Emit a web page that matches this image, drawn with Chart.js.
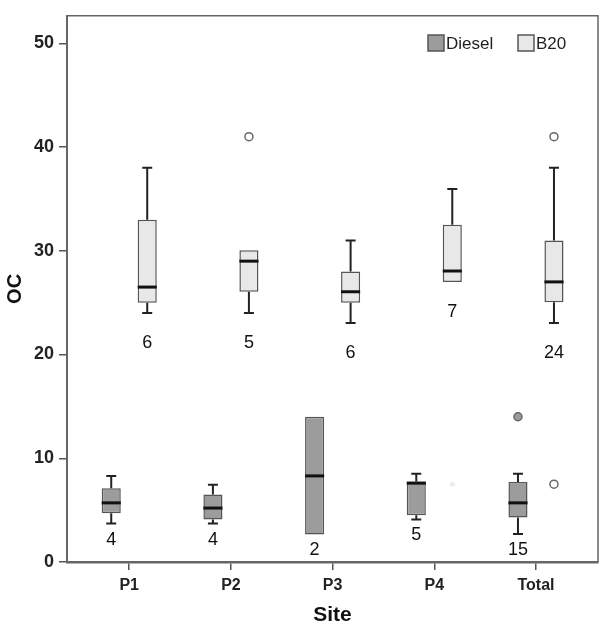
<!DOCTYPE html>
<html>
<head>
<meta charset="utf-8">
<script src="https://cdn.jsdelivr.net/npm/chart.js@4.4.1/dist/chart.umd.min.js"></script>
<style>
  html, body { margin: 0; padding: 0; background: #fff; }
</style>
</head>
<body>
<canvas id="graficoOC" width="604" height="629"></canvas>
<script>
// Sites (categories)
const sites = ['P1', 'P2', 'P3', 'P4', 'Total'];
const yTicks = [0, 10, 20, 30, 40, 50];

// Diesel box statistics
const dieselLow    = [3.7, 3.7, null, 4.1, 2.7];
const dieselQ1     = [4.7, 4.1, 2.65, 4.5, 4.3];
const dieselMedian = [5.7, 5.2, 8.3, 7.6, 5.7];
const dieselQ3     = [7.1, 6.5, 14.0, 7.75, 7.7];
const dieselHigh   = [8.3, 7.45, null, 8.5, 8.5];
const dieselOutliers = [[], [], [], [], [14.0]];
const dieselExtremes = [[], [], [], [], []];
const dieselN      = [4, 4, 2, 5, 15];

// B20 box statistics
const b20Low    = [24.0, 24.0, 23.05, 27.0, 23.05];
const b20Q1     = [25.0, 26.05, 25.0, 27.0, 25.05];
const b20Median = [26.5, 29.0, 26.05, 28.05, 27.0];
const b20Q3     = [33.0, 30.05, 28.0, 32.5, 31.0];
const b20High   = [38.0, 30.05, 31.0, 35.95, 38.0];
const b20Outliers = [[], [41.0], [], [], [41.0, 7.5]];
const b20Extremes = [[], [], [], [7.5], []];
const b20N      = [6, 5, 6, 7, 24];

const FONT = "'Liberation Sans', Arial, sans-serif";
const corDiesel = '#9c9c9c';
const corB20 = '#e8e8e8';

// extras per dataset (whiskers, medians, outliers, counts)
const extras = [
    { low: dieselLow, q1: dieselQ1, med: dieselMedian, high: dieselHigh, out: dieselOutliers, ext: dieselExtremes, n: dieselN, gap: 16, fill: corDiesel },
    { low: b20Low, q1: b20Q1, med: b20Median, high: b20High, out: b20Outliers, ext: b20Extremes, n: b20N, gap: 30, fill: '#ffffff' }
];

const boxExtras = {
    id: 'boxExtras',
    afterDatasetsDraw(chart) {
        const { ctx, chartArea: a, scales: { y } } = chart;
        ctx.save();

        extras.forEach((e, di) => {
            const meta = chart.getDatasetMeta(di);
            const q3 = chart.data.datasets[di].data.map(d => d.y[1]);
            meta.data.forEach((bar, i) => {
                const cx = bar.x;
                const half = bar.width / 2;
                // whiskers
                ctx.strokeStyle = '#222';
                ctx.lineWidth = 2;
                if (e.high[i] != null && e.high[i] > q3[i]) {
                    const yt = y.getPixelForValue(e.high[i]);
                    ctx.beginPath();
                    ctx.moveTo(cx, y.getPixelForValue(q3[i]));
                    ctx.lineTo(cx, yt);
                    ctx.moveTo(cx - 5, yt);
                    ctx.lineTo(cx + 5, yt);
                    ctx.stroke();
                }
                if (e.low[i] != null && e.low[i] < e.q1[i]) {
                    const yb = y.getPixelForValue(e.low[i]);
                    ctx.beginPath();
                    ctx.moveTo(cx, y.getPixelForValue(e.q1[i]));
                    ctx.lineTo(cx, yb);
                    ctx.moveTo(cx - 5, yb);
                    ctx.lineTo(cx + 5, yb);
                    ctx.stroke();
                }
                // median
                ctx.strokeStyle = '#111';
                ctx.lineWidth = 3;
                const ym = y.getPixelForValue(e.med[i]);
                ctx.beginPath();
                ctx.moveTo(cx - half, ym);
                ctx.lineTo(cx + half, ym);
                ctx.stroke();
                // outliers
                ctx.lineWidth = 1.5;
                ctx.strokeStyle = '#666';
                e.out[i].forEach(v => {
                    ctx.beginPath();
                    ctx.arc(cx, y.getPixelForValue(v), 4, 0, Math.PI * 2);
                    ctx.fillStyle = e.fill;
                    ctx.fill();
                    ctx.stroke();
                });
                // extremes (faint asterisk)
                ctx.strokeStyle = '#e2e2e2';
                ctx.lineWidth = 1;
                e.ext[i].forEach(v => {
                    const py = y.getPixelForValue(v);
                    ctx.beginPath();
                    for (let k = 0; k < 3; k++) {
                        const ang = k * Math.PI / 3;
                        ctx.moveTo(cx - 3 * Math.cos(ang), py - 3 * Math.sin(ang));
                        ctx.lineTo(cx + 3 * Math.cos(ang), py + 3 * Math.sin(ang));
                    }
                    ctx.stroke();
                });
                // counts
                const bottom = e.low[i] != null ? e.low[i] : e.q1[i];
                ctx.fillStyle = '#111';
                ctx.font = '18px ' + FONT;
                ctx.textAlign = 'center';
                ctx.textBaseline = 'middle';
                ctx.fillText(String(e.n[i]), cx, y.getPixelForValue(bottom) + e.gap);
            });
        });

        // frame (top and right)
        ctx.strokeStyle = '#666';
        ctx.lineWidth = 1.5;
        ctx.beginPath();
        ctx.moveTo(a.left, a.top);
        ctx.lineTo(a.right, a.top);
        ctx.lineTo(a.right, a.bottom);
        ctx.stroke();

        // legend
        const legend = [['Diesel', corDiesel, 428], ['B20', corB20, 518]];
        ctx.font = '17px ' + FONT;
        ctx.textAlign = 'left';
        ctx.textBaseline = 'middle';
        legend.forEach(([txt, cor, lx]) => {
            ctx.fillStyle = cor;
            ctx.fillRect(lx, 35, 16, 16);
            ctx.strokeStyle = '#555';
            ctx.lineWidth = 1.5;
            ctx.strokeRect(lx, 35, 16, 16);
            ctx.fillStyle = '#222';
            ctx.fillText(txt, lx + 18, 44);
        });
        ctx.restore();
    }
};

const ctx = document.getElementById('graficoOC').getContext('2d');
const graficoOC = new Chart(ctx, {
    type: 'bar',
    data: {
        datasets: [{
            label: 'Diesel',
            data: dieselQ1.map((v, i) => ({ x: i, y: [v, dieselQ3[i]] })),
            backgroundColor: corDiesel,
            borderColor: '#555',
            borderWidth: 1.5,
            borderSkipped: false
        }, {
            label: 'B20',
            data: b20Q1.map((v, i) => ({ x: i, y: [v, b20Q3[i]] })),
            backgroundColor: corB20,
            borderColor: '#555',
            borderWidth: 1.5,
            borderSkipped: false
        }]
    },
    options: {
        responsive: false,
        animation: false,
        categoryPercentage: 0.708,
        barPercentage: 0.53,
        layout: { padding: { left: 0, top: 6, right: 6, bottom: 0 } },
        scales: {
            x: {
                type: 'linear',
                offset: false,
                min: -0.612,
                max: 4.61,
                afterBuildTicks: s => { s.ticks = sites.map((_, i) => ({ value: i })); },
                afterFit: s => { s.height = 67; },
                grid: { offset: false, drawOnChartArea: false, tickLength: 8, color: '#555', lineWidth: 1.5 },
                border: { color: '#666', width: 2.5 },
                ticks: {
                    autoSkip: false,
                    maxRotation: 0,
                    padding: 6,
                    color: '#222',
                    font: { family: FONT, size: 16, weight: 'bold' },
                    callback: v => sites[v]
                },
                title: {
                    display: true,
                    text: 'Site',
                    color: '#111',
                    font: { family: FONT, size: 21, weight: 'bold' },
                    padding: { top: 0, bottom: 1 }
                }
            },
            y: {
                min: 0,
                max: 52.65,
                afterBuildTicks: s => { s.ticks = yTicks.map(v => ({ value: v })); },
                afterFit: s => { s.width = 67; },
                grid: { drawOnChartArea: false, tickLength: 8, color: '#555', lineWidth: 1.5 },
                border: { color: '#666', width: 2 },
                ticks: {
                    padding: 5,
                    color: '#222',
                    font: { family: FONT, size: 18, weight: 'bold' }
                },
                title: {
                    display: true,
                    text: 'OC',
                    color: '#111',
                    font: { family: FONT, size: 20, weight: 'bold' },
                    padding: { top: 3, bottom: 0 }
                }
            }
        },
        plugins: {
            legend: { display: false },
            tooltip: { enabled: false }
        }
    },
    plugins: [boxExtras]
});
</script>
</body>
</html>
